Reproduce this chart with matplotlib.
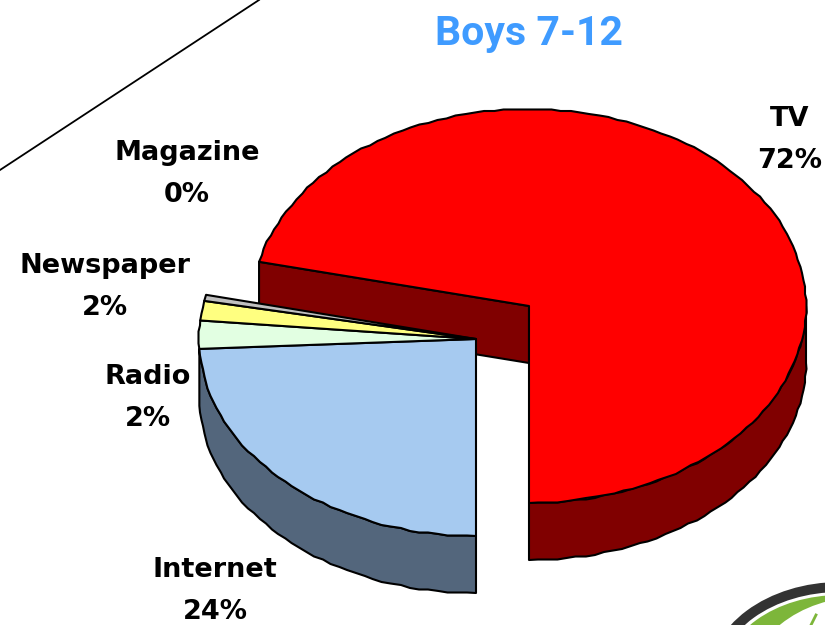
import numpy as np
import matplotlib
matplotlib.use("Agg")
import matplotlib.pyplot as plt
from matplotlib.patches import Polygon, Ellipse

# chart values, clockwise from the bottom of the pie
categories = ["Internet", "Radio", "Newspaper", "Magazine", "TV"]
values = [24.2, 2.3, 1.6, 0.5, 71.4]
pct_labels = ["24%", "2%", "2%", "0%", "72%"]

top_colors = ["#a6caf0", "#e2ffe2", "#ffff80", "#c0c0c0", "#ff0000"]
side_colors = ["#53667c", "#717f71", "#808040", "#606060", "#800000"]

# label centres in pixels
label_pos = [(215, 591), (148, 398), (105, 287), (187, 174), (790, 140)]

# pie geometry in pixels
A = 277
B = 197
DEPTH = 57
centre_left = (476, 339)    # the pulled out small slices
centre_tv = (529, 306)
SNAP = 1.5    # the source pie has stepped, slightly jagged edges

fig = plt.figure(figsize=(8.25, 6.25), dpi=100)
ax = fig.add_axes([0, 0, 1, 1])
ax.set_xlim(0, 825)
ax.set_ylim(625, 0)
ax.axis("off")


def arc(centre, a1, a2, drop=0):
    n = max(2, int(abs(a2 - a1) / 2) + 2)
    t = np.radians(np.linspace(a1, a2, n))
    x = A * np.cos(t)
    y = B * np.sin(t)
    # snap the inner points only, so the slice corners stay put
    x[1:-1] = np.round(x[1:-1] / SNAP) * SNAP
    y[1:-1] = np.round(y[1:-1] / SNAP) * SNAP
    return np.column_stack([centre[0] + x, centre[1] - y + drop])


def add_poly(pts, color, z):
    ax.add_patch(Polygon(pts, closed=True, facecolor=color, edgecolor="black",
                         linewidth=1.5, joinstyle="round", zorder=z))


# angles, going clockwise from 270
fractions = np.array(values) / sum(values)
edges = 270 - np.concatenate([[0], np.cumsum(fractions) * 360])

# TV wedge runs from the last left slice round to the bottom
tv_start = edges[4]
tv_end = edges[5]
tv_edge = arc(centre_tv, tv_start, tv_start)[0]

# cut face of the TV wedge
add_poly([tv_edge, centre_tv, (centre_tv[0], centre_tv[1] + DEPTH),
          (tv_edge[0], tv_edge[1] + DEPTH)], side_colors[4], 1)
# rim of the TV wedge (only the front part shows)
rim = arc(centre_tv, 360, 270)
rim_low = arc(centre_tv, 270, 360, DEPTH)
add_poly(np.vstack([rim, rim_low]), side_colors[4], 1)
add_poly(np.vstack([[centre_tv], arc(centre_tv, tv_start, tv_end)]), top_colors[4], 2)

# rim of the internet wedge
rim = arc(centre_left, 270, edges[1])
rim_low = arc(centre_left, edges[1], 270, DEPTH)
add_poly(np.vstack([rim, rim_low]), side_colors[0], 3)

# small slices on top
for i in range(4):
    add_poly(np.vstack([[centre_left], arc(centre_left, edges[i], edges[i + 1])]),
             top_colors[i], 4)

# labels
for name, pct, pos in zip(categories, pct_labels, label_pos):
    ax.text(pos[0], pos[1], name + "\n" + pct, ha="center", va="center",
            fontsize=19.5, fontweight="bold", family="DejaVu Sans",
            linespacing=1.8, color="black", zorder=6)

ax.text(529, 34, "Boys 7-12", ha="center", va="center", fontsize=29.5,
        fontweight="bold", family="Roboto", color="#3f9bff", zorder=6)

# slide decoration: diagonal line and the corner of the logo
ax.plot([0, 259], [170, 0], color="black", linewidth=1.3, zorder=1)
ax.add_patch(Ellipse((840, 680), 264, 196, facecolor="#333333", edgecolor="none", zorder=1))
ax.add_patch(Ellipse((840, 680), 244, 176, facecolor="white", edgecolor="none", zorder=1))
ax.add_patch(Ellipse((840, 680), 236, 170, facecolor="#7db63a", edgecolor="none", zorder=1))
ax.add_patch(Ellipse((862, 690), 230, 186, facecolor="white", edgecolor="none", zorder=1))
ax.plot([811, 816], [625, 615], color="#7db63a", linewidth=2, zorder=1)

fig.savefig("out.png", dpi=100)
